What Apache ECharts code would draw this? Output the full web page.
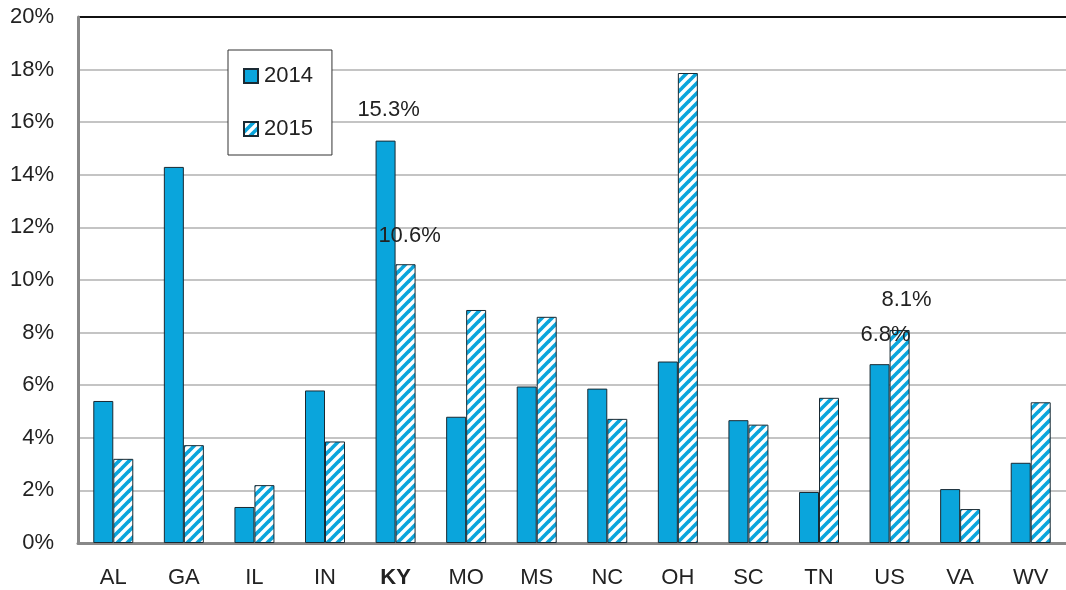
<!DOCTYPE html>
<html>
<head>
<meta charset="utf-8">
<title>2014 vs 2015</title>
<script src="https://cdn.jsdelivr.net/npm/echarts@6/dist/echarts.min.js"></script>
<style>
  html, body { margin: 0; padding: 0; background: #fff; }
  #chart { width: 1066px; height: 590px; }
</style>
</head>
<body>
<div id="chart"></div>
<script>
// data
var states = ['AL', 'GA', 'IL', 'IN', 'KY', 'MO', 'MS', 'NC', 'OH', 'SC', 'TN', 'US', 'VA', 'WV'];
var values2014 = [5.4, 14.3, 1.37, 5.8, 15.3, 4.8, 5.95, 5.87, 6.9, 4.67, 1.94, 6.8, 2.05, 3.05];
var values2015 = [3.2, 3.72, 2.2, 3.86, 10.6, 8.86, 8.6, 4.72, 17.87, 4.5, 5.52, 8.1, 1.29, 5.35];
var yTicks = [0, 2, 4, 6, 8, 10, 12, 14, 16, 18, 20];

// labelled bars: index -> offset
var labelled2014 = { 4: [3, -15], 11: [6, -13] };
var labelled2015 = { 4: [4, -12], 11: [7, -14] };

var blue = '#0aa5dc';

// diagonal hatch for 2015
var tile = document.createElement('canvas');
tile.width = 10; tile.height = 10;
var c = tile.getContext('2d');
c.fillStyle = '#fff';
c.fillRect(0, 0, 10, 10);
c.strokeStyle = blue;
c.lineWidth = 3.6;
[[-5, 5, 5, -5], [0, 10, 10, 0], [5, 15, 15, 5]].forEach(function (l) {
  c.beginPath(); c.moveTo(l[0], l[1]); c.lineTo(l[2], l[3]); c.stroke();
});
var hatch = { image: tile, repeat: 'repeat' };

function withLabels(arr, marks) {
  return arr.map(function (v, i) {
    if (!marks[i]) return v;
    return {
      value: v,
      label: { show: true, position: 'top', offset: marks[i], formatter: v.toFixed(1) + '%' }
    };
  });
}

var chart = echarts.init(document.getElementById('chart'));
var font = 'Liberation Sans, Arial, sans-serif';

chart.setOption({
  animation: false,
  textStyle: { fontFamily: font },
  grid: { left: 78, right: 0, top: 17, bottom: 47 },
  legend: {
    orient: 'vertical',
    left: 228, top: 50,
    padding: [15, 19, 15, 15],
    itemGap: 31,
    itemWidth: 14, itemHeight: 14,
    icon: 'rect',
    backgroundColor: '#fff',
    borderColor: '#333',
    borderWidth: 1,
    textStyle: { fontSize: 22, color: '#222', fontFamily: font, padding: [0, 0, 0, 1] },
    data: ['2014', '2015']
  },
  xAxis: {
    type: 'category',
    data: states,
    axisLine: { lineStyle: { color: '#888', width: 3 } },
    axisTick: { show: false },
    axisLabel: {
      interval: 0,
      margin: 24, fontSize: 22, color: '#222',
      formatter: function (v) { return v === 'KY' ? '{b|' + v + '}' : v; },
      rich: { b: { fontWeight: 'bold', fontSize: 22, color: '#222' } }
    }
  },
  yAxis: {
    type: 'value',
    min: yTicks[0], max: yTicks[yTicks.length - 1], interval: 2,
    axisLine: { show: true, lineStyle: { color: '#888', width: 3 } },
    axisTick: { show: false },
    axisLabel: { formatter: '{value}%', fontSize: 22, color: '#222', margin: 24 },
    splitLine: {
      lineStyle: {
        width: 2,
        color: ['#c4c4c4', '#c4c4c4', '#c4c4c4', '#c4c4c4', '#c4c4c4', '#c4c4c4',
                '#c4c4c4', '#c4c4c4', '#c4c4c4', '#c4c4c4', '#111']
      }
    }
  },
  series: [
    {
      name: '2014',
      type: 'bar',
      barWidth: 20,
      barGap: '0%',
      itemStyle: { color: blue, borderColor: '#1a2a33', borderWidth: 1 },
      label: { fontSize: 22, color: '#222' },
      data: withLabels(values2014, labelled2014)
    },
    {
      name: '2015',
      type: 'bar',
      barWidth: 20,
      itemStyle: { color: hatch, borderColor: '#1a2a33', borderWidth: 1 },
      label: { fontSize: 22, color: '#222' },
      data: withLabels(values2015, labelled2015)
    }
  ]
});
</script>
</body>
</html>
